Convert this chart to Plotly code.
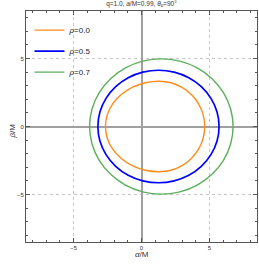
import plotly.graph_objects as go

# Upper-half boundary points (alpha/M, beta/M), from right extreme to left extreme
orange_alpha = [4.65, 4.54, 4.20, 3.67, 2.98, 2.17, 1.30, 0.28, -0.68, -1.49, -2.12, -2.52, -2.65]
orange_beta = [0.0, 0.86, 1.67, 2.35, 2.88, 3.22, 3.33, 3.22, 2.88, 2.35, 1.67, 0.86, 0.0]

blue_alpha = [5.71, 5.56, 5.11, 4.40, 3.48, 2.40, 1.25, 0.10, -0.98, -1.90, -2.61, -3.06, -3.21]
blue_beta = [0.0, 1.07, 2.07, 2.93, 3.59, 4.00, 4.14, 4.00, 3.59, 2.93, 2.07, 1.07, 0.0]

green_alpha = [6.74, 6.56, 6.03, 5.19, 4.10, 2.83, 1.46, 0.09, -1.18, -2.27, -3.11, -3.64, -3.82]
green_beta = [0.0, 1.29, 2.49, 3.52, 4.31, 4.81, 4.98, 4.81, 4.31, 3.52, 2.49, 1.29, 0.0]

series_names = ["ρ=0.0", "ρ=0.5", "ρ=0.7"]
series_colors = ["#FF8C1A", "#0000FF", "#5DAE5D"]
tick_vals = [-5, 0, 5]
tick_text = ["−5", "0", "5"]


def closed(xs, ys):
    lx = list(reversed(xs))[1:-1]
    ly = [-v for v in reversed(ys)][1:-1]
    X = list(xs) + lx + [xs[0]]
    Y = list(ys) + ly + [ys[0]]
    return X, Y


FONT = "Liberation Sans"
W, H = 259, 269
ML, MR, MT, MB = 26, 2, 11, 27
pw = W - ML - MR
ph = H - MT - MB

fig = go.Figure()
data = [(orange_alpha, orange_beta), (blue_alpha, blue_beta), (green_alpha, green_beta)]
widths = [1.4, 1.7, 1.4]
for (xs, ys), name, col, w in zip(data, series_names, series_colors, widths):
    X, Y = closed(xs, ys)
    fig.add_trace(go.Scatter(
        x=X, y=Y, mode="lines", name="<i>ρ</i>=" + name.split("=")[1],
        line=dict(color=col, width=w, shape="spline", smoothing=1.0),
        legendgroup=name,
    ))

axis_common = dict(
    range=[-8.5, 8.5], tickvals=tick_vals, ticktext=tick_text,
    ticks="inside", ticklen=4, tickwidth=1, tickcolor="#555555",
    showline=True, linecolor="#555555", linewidth=1, mirror="ticks",
    showgrid=True, gridcolor="#C8C8C8", griddash="dot", gridwidth=1,
    zeroline=True, zerolinecolor="#A0A0A0", zerolinewidth=1.5,
    tickfont=dict(size=6, family=FONT, color="#333333"),
    minor=dict(dtick=1, ticks="inside", ticklen=2, tickcolor="#555555", showgrid=False),
    automargin=False,
)

fig.update_layout(
    width=W, height=H,
    margin=dict(l=ML, r=MR, t=MT, b=MB, autoexpand=False),
    paper_bgcolor="white", plot_bgcolor="white",
    showlegend=True,
    legend=dict(x=0.015, y=0.98, xanchor="left", yanchor="top",
                bgcolor="rgba(0,0,0,0)", font=dict(size=8, family=FONT, color="#222222"),
                tracegroupgap=2, itemwidth=30),
    title=dict(text="q=1.0, <i>a</i>/M=0.99, <i>θ</i><sub>o</sub>=90°",
               x=0.5, xref="paper", xanchor="center", y=1 - 1.5 / H, yref="container",
               yanchor="top", pad=dict(t=0, b=0),
               font=dict(size=6.5, family=FONT, color="#333333")),
    xaxis=dict(**axis_common),
    yaxis=dict(**axis_common),
    annotations=[
        dict(text="<i>α</i>/M", x=0.5, xref="paper", y=(H - MB - 261) / ph, yref="paper",
             showarrow=False, font=dict(size=8, family=FONT, color="#333333")),
        dict(text="<i>β</i>/M", x=(5 - ML) / pw, xref="paper", y=(H - MB - 131) / ph, yref="paper",
             showarrow=False, textangle=-90, font=dict(size=8, family=FONT, color="#333333")),
    ],
)

fig.write_html("out.html", config={"displayModeBar": False},
               post_script="document.body.style.margin='0px';")
